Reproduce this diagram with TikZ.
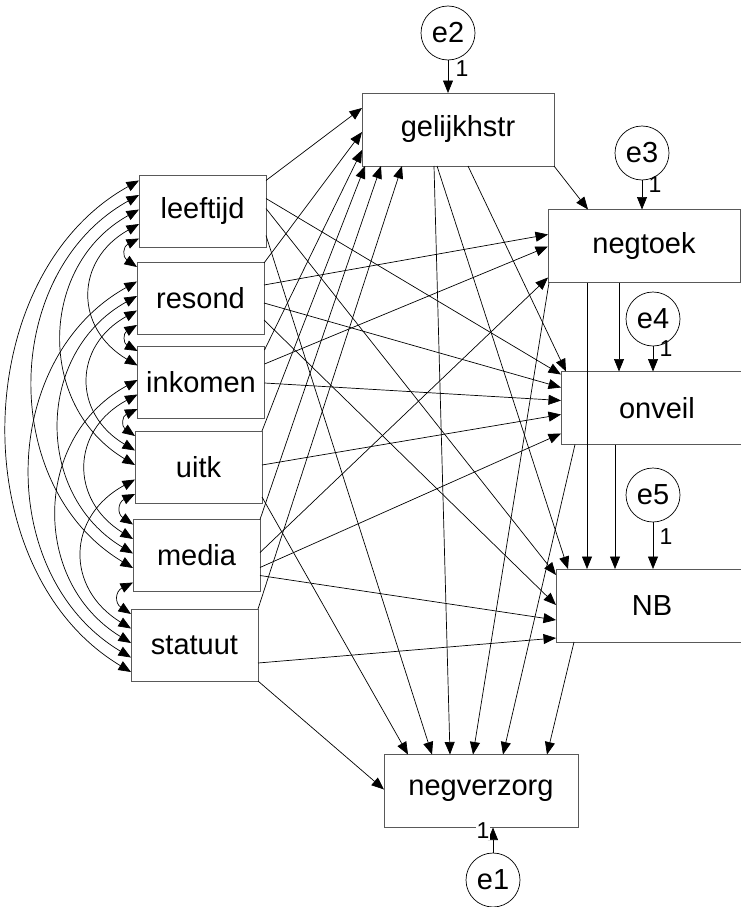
\documentclass[tikz,border=0pt]{standalone}
\usepackage{fontspec}
\setmainfont{Liberation Sans}
\usetikzlibrary{arrows.meta}

\begin{document}
\begin{tikzpicture}[x=1pt, y=-1pt, outer sep=0pt, line width=0.7pt, >={Triangle[length=12.5pt,width=10pt]}]

\tikzstyle{var}=[draw=black!65, line width=0.9pt, rectangle, minimum height=72pt, minimum width=127pt, inner sep=0pt, font=\fontsize{29}{31}\selectfont]
\tikzstyle{endo}=[var, minimum width=192pt, minimum height=73pt]
\tikzstyle{err}=[draw, circle, minimum size=54pt, inner sep=0pt, font=\fontsize{29}{31}\selectfont]
\tikzstyle{one}=[inner sep=1pt, font=\fontsize{23}{23}\selectfont]
\tikzstyle{reg}=[->]
\tikzstyle{cov}=[<->, bend right=60]

\useasboundingbox (0,0) rectangle (741,907);
\clip (0,0) rectangle (741,907);

\node[var] (leeftijd) at (202.5,211.5) {leeftijd}; \node[var] (resond) at (200.5,298) {resond}; \node[var] (inkomen) at (201,382) {inkomen};
\node[var] (uitk) at (198.5,467) {uitk}; \node[var] (media) at (196.5,555.5) {media}; \node[var] (statuut) at (194.5,645) {statuut};

\node[endo] (gelijkhstr) at (458,129.5) {gelijkhstr}; \node[endo] (negtoek) at (644,246) {negtoek}; \node[endo] (onveil) at (657,408) {onveil};
\node[endo] (NB) at (652,605.5) {NB}; \node[endo, minimum width=194pt] (negverzorg) at (481,791) {negverzorg};

\node[err] (e2) at (448,33) {e2}; \node[err] (e3) at (642,153) {e3}; \node[err] (e4) at (653,319) {e4};
\node[err] (e5) at (653,495) {e5}; \node[err] (e1) at (493,880) {e1};

\draw[reg] (e2.south) -- (e2.south |- gelijkhstr.north); \node[one] (one2) at (462,69) {1};
\draw[reg] (e3.south) -- (e3.south |- negtoek.north); \node[one] (one3) at (655,185) {1};
\draw[reg] (e4.south) -- (e4.south |- onveil.north); \node[one] (one4) at (666,349) {1};
\draw[reg] (e5.south) -- (e5.south |- NB.north); \node[one] (one5) at (666,537) {1};
\draw[reg] (e1.north) -- (e1.north |- negverzorg.south); \node[one, fill=white] (one1) at (483,831) {1};

\draw[reg] ([yshift=-5pt]leeftijd.north east) -- ([yshift=-15pt]gelijkhstr.north west);
\draw[reg] ([yshift=-1pt]resond.north east) -- ([yshift=-39pt]gelijkhstr.north west);
\draw[reg] ([yshift=-4pt]inkomen.north east) -- ([yshift=-57pt]gelijkhstr.north west);
\draw[reg] (uitk.north east) -- ([xshift=3pt]gelijkhstr.south west);
\draw[reg] (media.north east) -- ([xshift=19pt]gelijkhstr.south west);
\draw[reg] (statuut.north east) -- ([xshift=40pt]gelijkhstr.south west);

\draw[reg] (gelijkhstr.south east) -- ([xshift=40pt]negtoek.north west);
\draw[reg] ([xshift=106pt]gelijkhstr.south west) -- ([xshift=5pt]onveil.north west);
\draw[reg] ([xshift=75pt]gelijkhstr.south west) -- ([xshift=12pt]NB.north west);
\draw[reg] ([xshift=72pt]gelijkhstr.south west) -- ([xshift=66pt]negverzorg.north west);

\draw[reg] ([yshift=-23pt]resond.north east) -- ([yshift=-25pt]negtoek.north west);
\draw[reg] ([yshift=-18pt]inkomen.north east) -- ([yshift=-37pt]negtoek.north west);
\draw[reg] ([yshift=-33pt]media.north east) -- ([yshift=-68pt]negtoek.north west);

\draw[reg] ([yshift=-23pt]leeftijd.north east) -- ([yshift=-3pt]onveil.north west);
\draw[reg] ([yshift=-41pt]resond.north east) -- ([yshift=-16pt]onveil.north west);
\draw[reg] ([yshift=-37pt]inkomen.north east) -- ([yshift=-29pt]onveil.north west);
\draw[reg] ([yshift=-34pt]uitk.north east) -- ([yshift=-43pt]onveil.north west);
\draw[reg] ([yshift=-48pt]media.north east) -- ([yshift=-62pt]onveil.north west);
\draw[reg] ([xshift=71pt]negtoek.south west) -- ([xshift=58pt]onveil.north west);

\draw[reg] ([yshift=-33pt]leeftijd.north east) -- ([yshift=-6pt]NB.north west);
\draw[reg] ([yshift=-58pt]resond.north east) -- ([yshift=-36pt]NB.north west);
\draw[reg] ([yshift=-56pt]media.north east) -- ([yshift=-51pt]NB.north west);
\draw[reg] ([yshift=-54pt]statuut.north east) -- ([yshift=-69pt]NB.north west);
\draw[reg] ([xshift=39pt]negtoek.south west) -- ([xshift=31pt]NB.north west);
\draw[reg] ([xshift=54pt]onveil.south west) -- ([xshift=59pt]NB.north west);

\draw[reg] ([yshift=-66pt]uitk.north east) -- ([xshift=24pt]negverzorg.north west);
\draw[reg] ([yshift=-60pt]leeftijd.north east) -- ([xshift=48pt]negverzorg.north west);
\draw[reg] ([xshift=1pt]negtoek.south west) -- ([xshift=89pt]negverzorg.north west);
\draw[reg] ([xshift=14pt]onveil.south west) -- ([xshift=119pt]negverzorg.north west);
\draw[reg] ([xshift=18pt]NB.south west) -- ([xshift=163pt]negverzorg.north west);
\draw[reg] (statuut.south east) -- ([yshift=-35pt]negverzorg.north west);

\draw[cov] ([yshift=-63pt]leeftijd.north west) to[looseness=1.6] ([yshift=-5pt]resond.north west);
\draw[cov] ([yshift=-48.5pt]leeftijd.north west) to[looseness=1.33] ([yshift=-19.5pt]inkomen.north west);
\draw[cov] ([yshift=-34pt]leeftijd.north west) to[looseness=1.15] ([yshift=-34pt]uitk.north west);
\draw[cov] ([yshift=-19.5pt]leeftijd.north west) to[looseness=1.08] ([yshift=-48.5pt]media.north west);
\draw[cov] ([yshift=-5pt]leeftijd.north west) to[looseness=1.02] ([yshift=-63pt]statuut.north west);
\draw[cov] ([yshift=-63pt]resond.north west) to[looseness=1.6] ([yshift=-5pt]inkomen.north west);
\draw[cov] ([yshift=-48.5pt]resond.north west) to[looseness=1.33] ([yshift=-19.5pt]uitk.north west);
\draw[cov] ([yshift=-34pt]resond.north west) to[looseness=1.15] ([yshift=-34pt]media.north west);
\draw[cov] ([yshift=-19.5pt]resond.north west) to[looseness=1.08] ([yshift=-48.5pt]statuut.north west);
\draw[cov] ([yshift=-63pt]inkomen.north west) to[looseness=1.6] ([yshift=-5pt]uitk.north west);
\draw[cov] ([yshift=-48.5pt]inkomen.north west) to[looseness=1.33] ([yshift=-19.5pt]media.north west);
\draw[cov] ([yshift=-34pt]inkomen.north west) to[looseness=1.15] ([yshift=-34pt]statuut.north west);
\draw[cov] ([yshift=-63pt]uitk.north west) to[looseness=1.6] ([yshift=-5pt]media.north west);
\draw[cov] ([yshift=-48.5pt]uitk.north west) to[looseness=1.33] ([yshift=-19.5pt]statuut.north west);
\draw[cov] ([yshift=-63pt]media.north west) to[looseness=1.6] ([yshift=-5pt]statuut.north west);
\end{tikzpicture}
\end{document}
